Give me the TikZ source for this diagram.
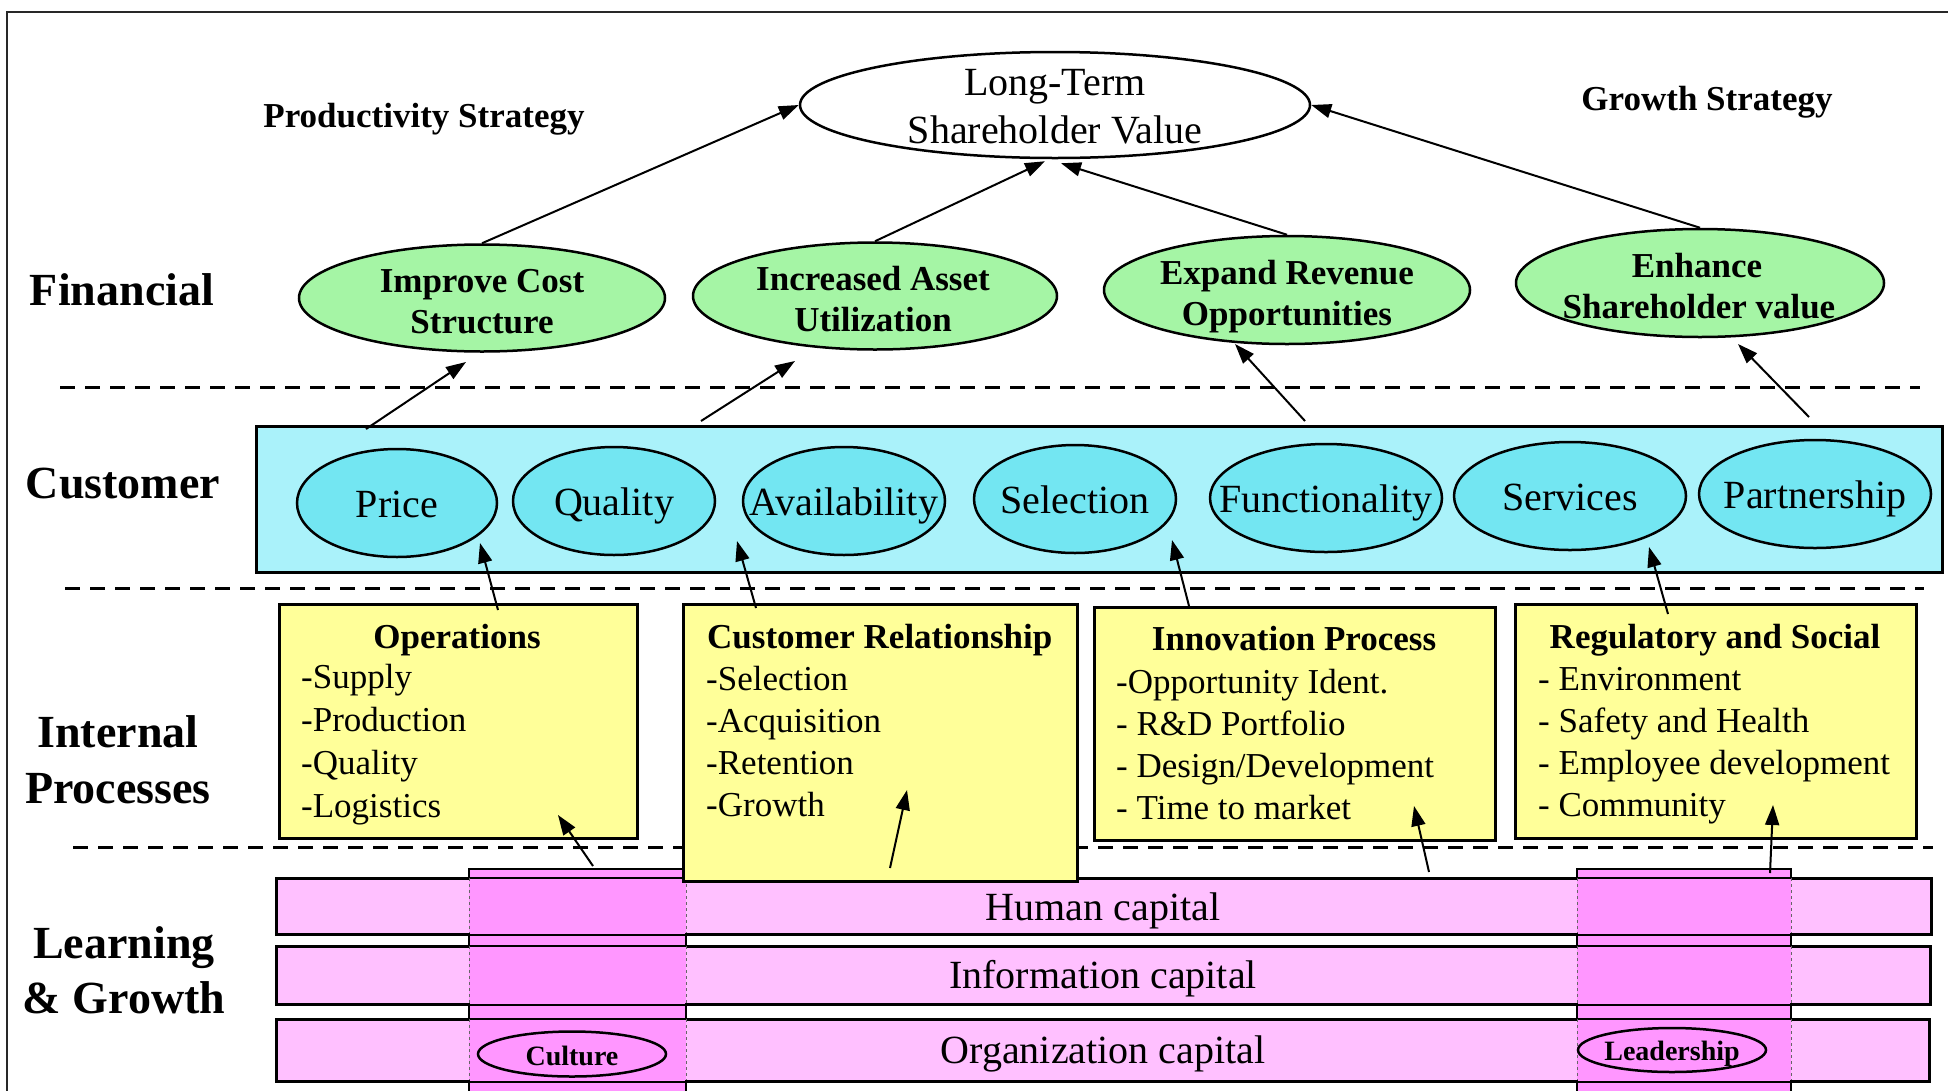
\documentclass[tikz,border=0pt]{standalone}
\usepackage{fontspec}
\setmainfont{Liberation Serif}
\usetikzlibrary{shapes.geometric,arrows.meta,calc}
\definecolor{fingreen}{RGB}{165,245,165}
\definecolor{custband}{RGB}{170,242,250}
\definecolor{custell}{RGB}{115,230,242}
\definecolor{ipyellow}{RGB}{255,255,153}
\definecolor{lgpink}{RGB}{255,192,255}
\definecolor{lgcol}{RGB}{255,150,255}
\definecolor{framec}{RGB}{40,40,40}
\begin{document}
\begin{tikzpicture}[x=1pt,y=-1pt,
  lbl/.style={font=\fontsize{46}{56}\selectfont\bfseries, anchor=base, inner sep=0},
  bt/.style={font=\fontsize{35}{42}\selectfont\bfseries, anchor=base, inner sep=0},
  rt/.style={font=\fontsize{40}{48}\selectfont, anchor=base, inner sep=0},
  itm/.style={font=\fontsize{35}{42}\selectfont, anchor=base west, inner sep=0},
  fin/.style={ellipse, draw=black, line width=2.5pt, fill=fingreen, minimum width=366pt, minimum height=107pt, inner sep=0},
  cell/.style={ellipse, draw=black, line width=2.5pt, fill=custell, minimum height=108pt, inner sep=0},
  ybox/.style={rectangle, draw=black, line width=2.5pt, fill=ipyellow, anchor=north west, inner sep=0},
  band/.style={rectangle, draw=black, line width=2pt, fill=lgpink, anchor=north west, inner sep=0},
  smell/.style={ellipse, draw=black, line width=2.5pt, fill=lgcol, minimum width=188pt, minimum height=45pt, inner sep=0},
  smtxt/.style={font=\fontsize{28}{32}\selectfont\bfseries, anchor=base, inner sep=0},
  arr/.style={line width=2pt, -{Triangle[length=20pt,width=14pt]}},
  sepline/.style={line width=3pt, dash pattern=on 15pt off 10pt},
  coledge/.style={line width=2pt, draw=black},
  colin/.style={line width=0.8pt, draw=black!60, dash pattern=on 3pt off 3pt}
]
\useasboundingbox (0,0) rectangle (1948,1090);

% frame
\draw[line width=2.5pt, framec] (7,1100) -- (7,12) -- (1960,12);

% dashed separators
\draw[sepline] (60,387) -- (1920,387);
\draw[sepline] (65,588) -- (1924,588);
\draw[sepline] (73,847) -- (1933,847);

% row labels and strategies
\node[lbl] (lfin) at (122,305) {Financial};
\node[lbl] (lcus) at (123,498) {Customer};
\node[lbl] (lint1) at (118,747) {Internal};
\node[lbl] (lint2) at (118,803) {Processes};
\node[lbl] (llg1) at (124,958) {Learning};
\node[lbl] (llg2) at (124,1013) {\& Growth};
\node[bt] (prod) at (424,127) {Productivity Strategy};
\node[bt] (grow) at (1707,110) {Growth Strategy};

% customer band
\node[rectangle, draw=black, line width=2.5pt, fill=custband, anchor=north west, minimum width=1686pt, minimum height=146pt, inner sep=0] (cust) at (255,425) {};
\node[cell, minimum width=200pt] (price) at (397,503) {};
\node[cell, minimum width=202pt] (qual) at (614,501) {};
\node[cell, minimum width=202pt] (avail) at (844,501) {};
\node[cell, minimum width=202pt] (sel) at (1075,499) {};
\node[cell, minimum width=232pt] (func) at (1326,498) {};
\node[cell, minimum width=232pt] (serv) at (1570,496) {};
\node[cell, minimum width=232pt] (part) at (1815,494) {};
\node[rt] (tprice) at (397,517) {Price};
\node[rt] (tqual) at (614,515) {Quality};
\node[rt] (tavail) at (844,515) {Availability};
\node[rt] (tsel) at (1075,513) {Selection};
\node[rt] (tfunc) at (1326,512) {Functionality};
\node[rt] (tserv) at (1570,510) {Services};
\node[rt] (tpart) at (1815,508) {Partnership};

% learning & growth bands
\node[band, minimum width=1654pt, minimum height=55pt] (hc) at (276,878) {};
\node[band, minimum width=1653pt, minimum height=57pt] (ic) at (276,946) {};
\node[band, minimum width=1652pt, minimum height=61pt] (oc) at (276,1019) {};
\fill[lgcol] (469,869) rectangle (686,1100);
\fill[lgcol] (1577,869) rectangle (1791,1100);
\draw[line width=2pt] (hc.north west) rectangle (hc.south east);
\draw[line width=2pt] (ic.north west) rectangle (ic.south east);
\draw[line width=2pt] (oc.north west) rectangle (oc.south east);
\foreach \xa in {469,686,1577,1791}{
  \draw[colin] (\xa,878) -- (\xa,933);
  \draw[colin] (\xa,946) -- (\xa,1003);
  \draw[colin] (\xa,1019) -- (\xa,1080);
  \draw[coledge] (\xa,933) -- (\xa,946);
  \draw[coledge] (\xa,1003) -- (\xa,1019);
  \draw[coledge] (\xa,1080) -- (\xa,1100);
}
\draw[coledge] (469,878) -- (469,869) -- (686,869) -- (686,878);
\draw[coledge] (1577,878) -- (1577,869) -- (1791,869) -- (1791,878);
\node[rt] (thc) at (1103,920) {Human capital};
\node[rt] (tic) at (1103,988) {Information capital};
\node[rt] (toc) at (1103,1063) {Organization capital};
\node[smell] (cult) at (572,1054) {};
\node[smtxt] (tcult) at (572,1065) {Culture};
\node[smell, minimum height=44pt] (lead) at (1672,1050) {};
\node[smtxt] (tlead) at (1672,1060) {Leadership};

% internal process boxes
\node[ybox, minimum width=358pt, minimum height=234pt] (ops) at (278,603) {};
\node[ybox, minimum width=394pt, minimum height=277pt] (cr) at (682,603) {};
\node[ybox, minimum width=401pt, minimum height=233pt] (inn) at (1093,606) {};
\node[ybox, minimum width=401pt, minimum height=234pt] (reg) at (1514,603) {};

\node[bt] (tops) at (457,648) {Operations};
\foreach \t [count=\i] in {-Supply,-Production,-Quality,-Logistics}
  \node[itm] (ops-\i) at (301,{688+43*(\i-1)}) {\t};
\node[bt, anchor=base west] (tcr) at (707,648) {Customer Relationship};
\foreach \t [count=\i] in {-Selection,-Acquisition,-Retention,-Growth}
  \node[itm] (cr-\i) at (706,{690+42.3*(\i-1)}) {\t};
\node[bt] (tinn) at (1294,650) {Innovation Process};
\foreach \t [count=\i] in {-Opportunity Ident.,- R\&D Portfolio,- Design/Development,- Time to market}
  \node[itm] (inn-\i) at (1116,{693+42*(\i-1)}) {\t};
\node[bt] (treg) at (1715,648) {Regulatory and Social};
\foreach \t [count=\i] in {- Environment,- Safety and Health,- Employee development,- Community}
  \node[itm] (reg-\i) at (1538,{690+42.3*(\i-1)}) {\t};

% financial ellipses
\node[fin] (imp) at (482,298) {};
\node[fin, minimum width=364pt] (inc) at (875,296) {};
\node[fin, minimum width=366pt, minimum height=108pt] (exp) at (1287,290) {};
\node[fin, minimum width=368pt, minimum height=108pt] (enh) at (1700,283) {};
\node[bt] (timp1) at (482,292) {Improve Cost};
\node[bt] (timp2) at (482,333) {Structure};
\node[bt] (tinc1) at (873,290) {Increased Asset};
\node[bt] (tinc2) at (873,331) {Utilization};
\node[bt] (texp1) at (1287,284) {Expand Revenue};
\node[bt] (texp2) at (1287,325) {Opportunities};
\node[bt] (tenh1) at (1697,277) {Enhance};
\node[bt] (tenh2) at (1699,318) {Shareholder value};

% long-term value
\node[ellipse, draw=black, line width=2.5pt, fill=white, minimum width=510pt, minimum height=106pt, inner sep=0] (lt) at (1055,105) {};
\node[rt] (tlt1) at (1055,95) {Long-Term};
\node[rt] (tlt2) at (1055,143) {Shareholder Value};

% free connector ends
\coordinate (b1s) at (366,429);  \coordinate (b1e) at (466,362);
\coordinate (b2s) at (701,421);  \coordinate (b2e) at (795,361);
\coordinate (b3s) at (1305,421); \coordinate (b3e) at (1235,344);
\coordinate (b4s) at (1809,417); \coordinate (b4e) at (1738,344);
\coordinate (c1s) at (498,610);  \coordinate (c1e) at (480,543);
\coordinate (c2s) at (756,608);  \coordinate (c2e) at (737,541);
\coordinate (c3s) at (1189,606); \coordinate (c3e) at (1172,540);
\coordinate (c4s) at (1668,614); \coordinate (c4e) at (1649,547);
\coordinate (d1s) at (593,866);  \coordinate (d1e) at (558,815);
\coordinate (d2s) at (890,868);  \coordinate (d2e) at (907,790);
\coordinate (d3s) at (1429,872); \coordinate (d3e) at (1414,806);
\coordinate (d4s) at (1770,873); \coordinate (d4e) at (1773,805);

% arrows
\draw[arr] (imp.north) -- (lt.west);
\draw[arr] (inc.north) -- ($(lt.south)+(-10,2)$);
\draw[arr] (exp.north) -- ($(lt.south)+(6,4)$);
\draw[arr] (enh.north) -- (lt.east);
\foreach \k in {b1,b2,b3,b4,c1,c2,c3,c4,d1,d2,d3,d4}
  \draw[arr] (\k s) -- (\k e);
\end{tikzpicture}
\end{document}
